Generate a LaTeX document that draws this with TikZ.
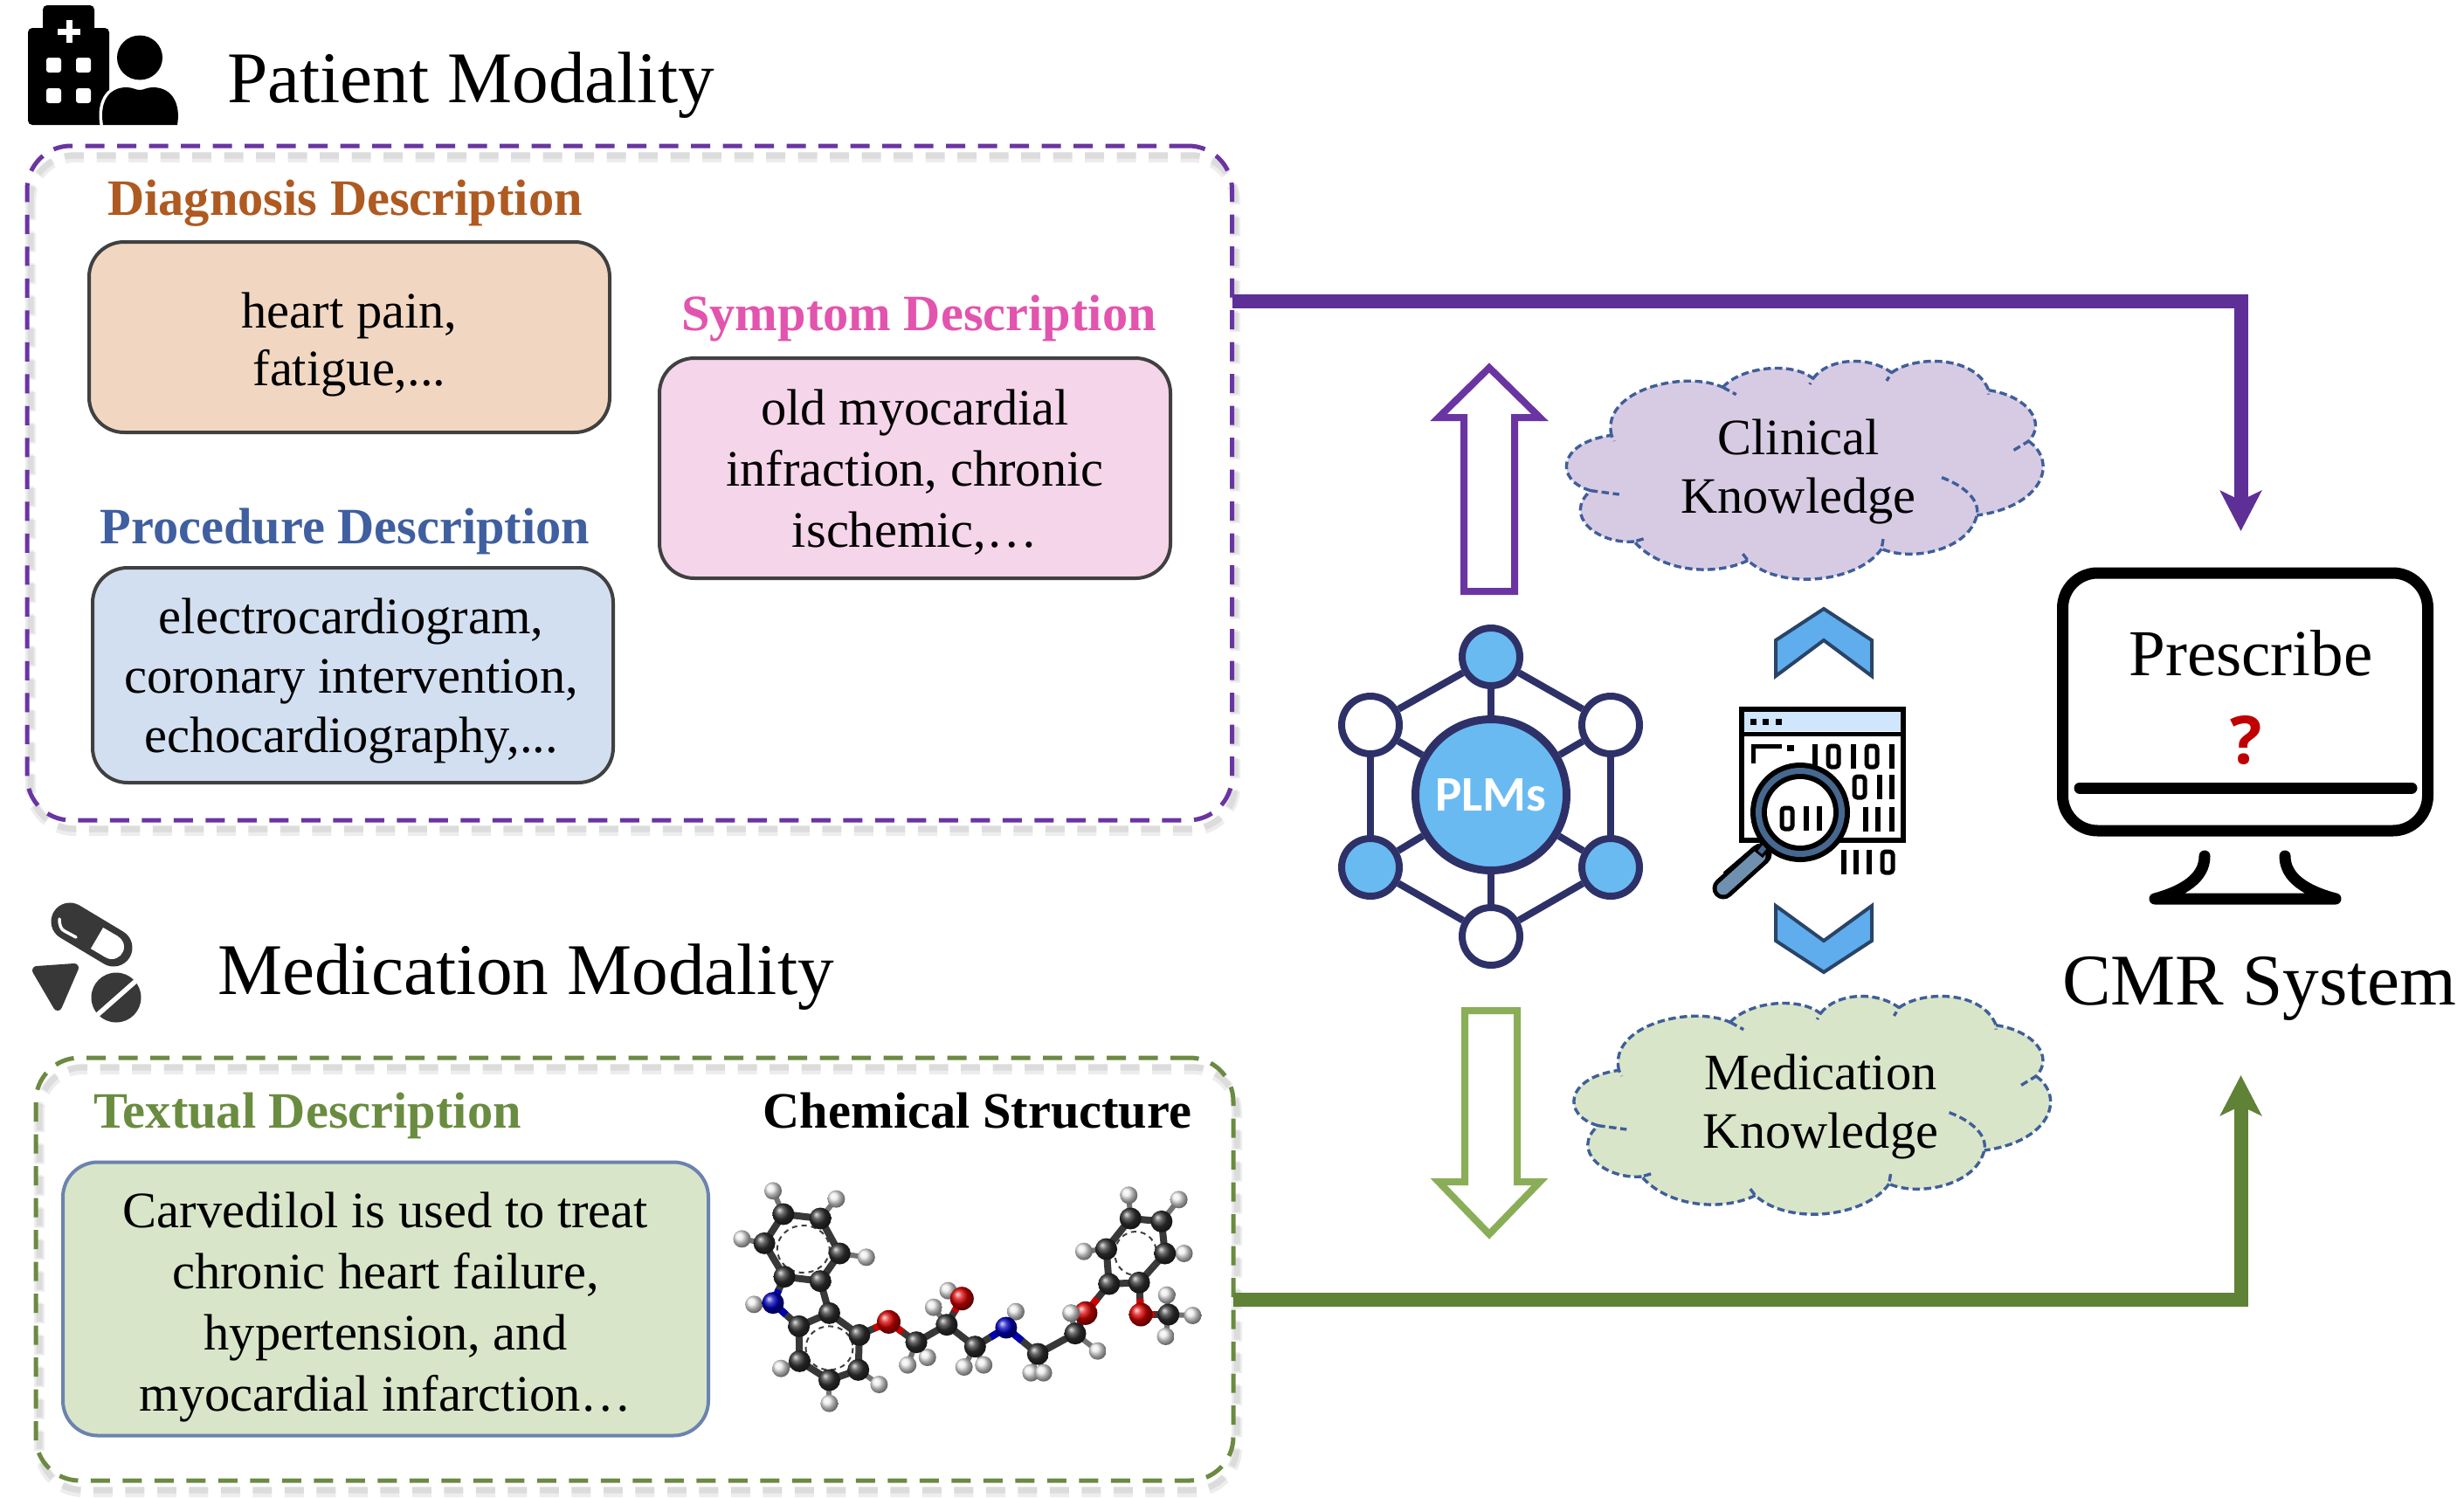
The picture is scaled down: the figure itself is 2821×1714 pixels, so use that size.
\documentclass[tikz,border=0pt]{standalone}
\usepackage{fontspec}
\setmainfont{Liberation Serif}
\newfontfamily\plmfont{Carlito}
\newfontfamily\qfont{Open Sans}
\usetikzlibrary{arrows.meta,calc}
\definecolor{cpurple}{HTML}{6A35A2}
\definecolor{cpurpleline}{HTML}{5E2F96}
\definecolor{cgreen}{HTML}{6B8A42}
\definecolor{cgreenline}{HTML}{5F8237}
\definecolor{cgreenarrow}{HTML}{8AAE58}
\definecolor{cnavy}{HTML}{2E3168}
\definecolor{cblue}{HTML}{6ABAF2}
\definecolor{cchev}{HTML}{5FADEC}
\definecolor{cchevline}{HTML}{2A4468}
\definecolor{cdash}{HTML}{3F5E9A}
\definecolor{cslate}{HTML}{46688E}
\definecolor{chandle}{HTML}{7090B0}
\definecolor{cicon}{HTML}{383838}
\definecolor{fdiag}{HTML}{F1D7C2}
\definecolor{fsym}{HTML}{F5D5EA}
\definecolor{fproc}{HTML}{D2DFF0}
\definecolor{ftext}{HTML}{D9E5C9}
\definecolor{fclin}{HTML}{D7CBE4}
\definecolor{fbar}{HTML}{CFE6FC}
\definecolor{tdiag}{HTML}{AE5A21}
\definecolor{tsym}{HTML}{E254AE}
\definecolor{tproc}{HTML}{3F5FA0}
\definecolor{ttext}{HTML}{6A8C40}
\definecolor{cardedge}{HTML}{404040}
\definecolor{textedge}{HTML}{6C83B0}
\definecolor{qred}{HTML}{C00000}
\tikzset{
  head/.style={font=\fontsize{83.3}{83.3}\selectfont,anchor=base west,inner sep=0pt},
  sub/.style={font=\bfseries\fontsize{58.4}{58.4}\selectfont,anchor=base,inner sep=0pt},
  body/.style={font=\fontsize{58.5}{#1}\selectfont,align=center,inner sep=0pt},
  card/.style={draw,line width=4pt,rounded corners=40pt,inner sep=0pt},
  frame/.style={line width=5pt,rounded corners=50pt,dash pattern=on 22pt off 14.5pt,inner sep=0pt,outer sep=0pt},
  fshadow/.style={line width=#1,rounded corners=50pt,dash pattern=on 22pt off 14.5pt,black,opacity=.07},
  hub/.style={circle,draw=cnavy,line width=8pt,minimum size=66pt,inner sep=0pt},
  spoke/.style={draw=cnavy,line width=8pt},
  hollow/.style={line width=8pt,fill=white,miter limit=10},
  chev/.style={fill=cchev,draw=cchevline,line width=4pt},
  cloudline/.style={draw=cdash,line width=3.4pt,dash pattern=on 8.5pt off 4.5pt},
  cloudtext/.style={font=\fontsize{58.4}{58.4}\selectfont,anchor=base,inner sep=0pt},
  flow/.style={line width=16pt,-{Stealth[length=46pt,width=47pt,inset=11pt]}},
  bitline/.style={line width=5.5pt},
  cbond/.style={line width=8pt,draw=black!78,line cap=round},
}
\newcommand\bitzero[2]{\draw[line width=5pt,rounded corners=3.5pt] ({#1-6},{#2-12}) rectangle ({#1+6},{#2+12});}
\newcommand\bitone[2]{\draw[bitline] (#1,{#2-14}) -- (#1,{#2+14});}
\newcommand\cloudshape[3]{%
 \begin{scope}[shift={(#1,#2)},xscale=0.38270,yscale=0.33333]
  \fill[#3] (222,325) .. controls (190,170) and (440,100) .. (555,160)
   .. controls (610,90) and (760,70) .. (825,130)
   .. controls (870,60) and (990,50) .. (1060,110)
   .. controls (1130,50) and (1310,50) .. (1350,170)
   .. controls (1465,190) and (1525,280) .. (1470,345)
   .. controls (1560,420) and (1510,570) .. (1315,600)
   .. controls (1290,720) and (1120,760) .. (1030,715)
   .. controls (960,830) and (730,860) .. (630,755)
   .. controls (530,810) and (370,795) .. (290,690)
   .. controls (180,700) and (75,600) .. (160,515)
   .. controls (50,480) and (60,350) .. (222,325) -- cycle;
  \draw[cloudline] (222,325) .. controls (190,170) and (440,100) .. (555,160)
   (555,160) -- (595,185)
   (555,160) .. controls (610,90) and (760,70) .. (825,130) -- (815,150)
   (825,130) .. controls (870,60) and (990,50) .. (1060,110) -- (1045,138)
   (1060,110) .. controls (1130,50) and (1310,50) .. (1350,170) -- (1350,185)
   (1350,170) .. controls (1465,190) and (1525,280) .. (1470,345) -- (1420,380)
   (1470,345) .. controls (1560,420) and (1510,570) .. (1315,600)
   (1210,470) .. controls (1280,500) and (1325,550) .. (1315,600)
   .. controls (1290,720) and (1120,760) .. (1030,715) -- (1035,680)
   (1030,715) .. controls (960,830) and (730,860) .. (630,755) -- (610,725)
   (630,755) .. controls (530,810) and (370,795) .. (290,690) -- (320,680)
   (290,690) .. controls (180,700) and (75,600) .. (160,515) -- (245,528)
   (160,515) .. controls (50,480) and (60,350) .. (222,325) -- (230,345);
 \end{scope}}
\begin{document}
\begin{tikzpicture}[x=1pt,y=-1pt]
\useasboundingbox (0,0) rectangle (2821,1714);
\fill[white] (0,0) rectangle (2821,1714);

% ---------- hospital + person icon
\fill[black,rounded corners=5pt] (49,6) rectangle (108,40);
\fill[black,rounded corners=5pt] (32,32) rectangle (125,143);
\fill[white] (75.5,23) rectangle (82.5,49);
\fill[white] (66,32.5) rectangle (92,39.5);
\foreach \wx in {53,87}\foreach \wy in {66,101}
  {\fill[white,rounded corners=3pt] (\wx,\wy) rectangle +(17,17);}
\fill[black] (160,66) ellipse [x radius=26,y radius=25.5];
\path[fill=black,draw=white,line width=7pt] (118,143) .. controls (114,120) and (122,100) .. (145,100)
  .. controls (152,100) and (155,103) .. (160,103) .. controls (165,103) and (168,100) .. (175,100)
  .. controls (198,100) and (207,120) .. (203,143) -- cycle;
\fill[black] (118,143) .. controls (114,120) and (122,100) .. (145,100)
  .. controls (152,100) and (155,103) .. (160,103) .. controls (165,103) and (168,100) .. (175,100)
  .. controls (198,100) and (207,120) .. (203,143) -- cycle;
\node[head] (ptitle) at (260,117) {Patient Modality};

% ---------- patient frame
\draw[fshadow=12pt] (35,180) rectangle (1414,951);
\draw[fshadow=7pt] (35,178) rectangle (1414,949);
\node[frame,draw=cpurple,minimum width=1379.5pt,minimum height=772pt] (pbox) at (720.75,553) {};

\node[sub,text=tdiag] (dtitle) at (395,246) {Diagnosis Description};
\node[card,draw=cardedge,fill=fdiag,minimum width=596pt,minimum height=218pt] (dcard) at (400,386) {};
\node[body=66] (dtext) at ($(dcard)+(0,9)$) {heart pain,\\fatigue,...};
\node[sub,text=tsym] (stitle) at (1052,378) {Symptom Description};
\node[card,draw=cardedge,fill=fsym,minimum width=585pt,minimum height=252pt] (scard) at (1047.5,536) {};
\node[body=70] (stext) at ($(scard)+(0,5)$) {old myocardial\\infraction, chronic\\ischemic,…};
\node[sub,text=tproc] (ptitle2) at (395,622) {Procedure Description};
\node[card,draw=cardedge,fill=fproc,minimum width=596pt,minimum height=246pt] (pcard) at (404,773) {};
\node[body=68] (ptext) at ($(pcard)+(-2,7)$) {electrocardiogram,\\coronary intervention,\\echocardiography,...};

% ---------- pills icon
\draw[cicon,line width=43pt,line cap=round] (80,1055) -- (130,1085);
\draw[white,line width=28pt] (111,1074) -- (128,1084);
\fill[white] (128,1084) circle (14);
\draw[white,line width=3.5pt,line cap=round,line join=round] (68,1052) .. controls (68,1060) and (70,1064) .. (74,1066) -- (87,1073);
\filldraw[cicon,line width=10pt,line join=round] (42,1111) -- (85,1108) -- (66,1152) -- cycle;
\fill[cicon] (133,1142) circle (28.5);
\draw[white,line width=5.5pt] (108,1165) -- (159,1120);
\node[head] (mtitle) at (249,1138) {Medication Modality};

% ---------- medication frame
\draw[fshadow=12pt] (45,1224) rectangle (1416,1708);
\draw[fshadow=7pt] (45,1222) rectangle (1416,1706);
\node[frame,draw=cgreen,minimum width=1371pt,minimum height=484pt] (mbox) at (726.5,1453) {};

\node[sub,text=ttext] (ttitle) at (352,1291) {Textual Description};
\node[sub] (ctitle) at (1119,1291) {Chemical Structure};
\node[card,draw=textedge,fill=ftext,minimum width=739pt,minimum height=313pt] (tcard) at (441.5,1487) {};
\node[body=70] (ttext2) at ($(tcard)+(0,9)$) {Carvedilol is used to treat\\chronic heart failure,\\hypertension, and\\myocardial infarction…};

% ---------- molecule
\foreach \n/\x/\y in {
 1/245/330,2/352/345,3/408/465,4/352/560,5/248/545,6/190/430,
 7/290/715,8/378/670,9/465/745,10/462/865,11/378/900,12/292/835,
 13/630/770,14/718/710,15/800/785,16/982/810,17/1090/740,
 18/1188/570,19/1275/565,20/1350/465,21/1340/355,22/1250/345,23/1180/450,24/1360/675,
 30/215/250,31/398/278,32/485/478,33/125/415,34/160/640,35/238/860,36/378/980,37/522/915,
 38/605/848,39/662/822,40/680/650,41/722/593,42/768/855,43/825/848,44/918/665,45/962/875,46/998/875,
 47/1078/670,48/1155/800,49/1245/265,50/1390/280,51/1405/465,52/1115/458,53/1355/608,54/1352/750,55/1430/678,
 60/550/700,61/762/620,62/1120/670,63/1280/675,
 70/215/635,71/890/720}
 {\coordinate (a\n) at ({800+\x/2.529},{1280+\y/3});}
\foreach \p/\q in {1/30,2/31,3/32,6/33,70/34,12/35,11/36,10/37,13/38,13/39,14/40,61/41,15/42,15/43,71/44,16/45,16/46,17/47,17/48,22/49,21/50,20/51,23/52,24/53,24/54,24/55}
 {\draw[line width=6pt,draw=black!55,line cap=round] (a\p) -- (a\q);}
\foreach \p/\q in {1/2,2/3,3/4,4/5,5/6,6/1,4/8,7/8,8/9,9/10,10/11,11/12,12/7,13/14,14/15,16/17,18/19,19/20,20/21,21/22,22/23,23/18}
 {\draw[cbond] (a\p) -- (a\q);}
\foreach \p/\q/\c in {9/60/red!80!black,13/60/red!80!black,14/61/red!80!black,17/62/red!80!black,18/62/red!80!black,19/63/red!80!black,24/63/red!80!black,
  5/70/blue!70!black,7/70/blue!70!black,15/71/blue!70!black,16/71/blue!70!black}{
 \draw[cbond] (a\p) -- (a\q);
 \draw[line width=8pt,draw=\c] (a\q) -- ($(a\q)!.5!(a\p)$);}
\foreach \cx/\cy/\rx/\ry in {303/450/30/27,378/790/27/25,1265/465/24/25}
 {\draw[black!75,line width=2pt,dash pattern=on 6pt off 5pt] ({800+\cx/2.529},{1280+\cy/3}) ellipse [x radius=\rx,y radius=\ry];}
\foreach \n in {30,...,55} {\shade[ball color=white!92!black] (a\n) circle (10);}
\foreach \n in {1,...,24} {\shade[ball color=black!80] (a\n) circle (12.5);}
\foreach \n in {60,...,63} {\shade[ball color=red!85!black] (a\n) circle (13.5);}
\foreach \n in {70,71} {\shade[ball color=blue!75!black] (a\n) circle (12.5);}
\shade[ball color=white!92!black] (a47) circle (10);

% ---------- hollow arrows
\draw[hollow,draw=cpurple] (1705,421) -- (1763,478) -- (1734,478) -- (1734,677) -- (1676,677) -- (1676,478) -- (1647,478) -- cycle;
\draw[hollow,draw=cgreenarrow] (1705,1413) -- (1763,1353) -- (1737,1353) -- (1737,1157) -- (1677,1157) -- (1677,1353) -- (1647,1353) -- cycle;

% ---------- PLMs hub
\node[circle,draw=cnavy,fill=cblue,line width=9pt,minimum size=173pt,inner sep=0pt,text=white,font=\plmfont\bfseries\fontsize{57}{57}\selectfont] (plm) at (1707,910) {PLMs};
\node[hub,fill=cblue] (nt) at (1707,752) {};
\node[hub,fill=white] (ntl) at (1569,830) {};
\node[hub,fill=white] (ntr) at (1844,830) {};
\node[hub,fill=cblue] (nbl) at (1569,993) {};
\node[hub,fill=cblue] (nbr) at (1844,993) {};
\node[hub,fill=white] (nb) at (1707,1072) {};
\foreach \p/\q in {nt/ntl,nt/ntr,ntl/nbl,ntr/nbr,nbl/nb,nbr/nb,nt/plm,ntl/plm,ntr/plm,nbl/plm,nbr/plm,nb/plm}
  {\draw[spoke] (\p) -- (\q);}

% ---------- clouds
\cloudshape{1760}{390}{fclin}
\node[cloudtext] (ck1) at (2059,520) {Clinical};
\node[cloudtext] (ck2) at (2059,587) {Knowledge};
\cloudshape{1768.5}{1117}{ftext}
\node[cloudtext] (mk1) at (2084.5,1247) {Medication};
\node[cloudtext] (mk2) at (2084.5,1314) {Knowledge};

% ---------- chevrons
\draw[chev] (2088,697) -- (2143,733) -- (2143,774) -- (2088,733) -- (2033,774) -- (2033,733) -- cycle;
\draw[chev] (2033,1037) -- (2088,1077) -- (2143,1037) -- (2143,1077) -- (2088,1113) -- (2033,1077) -- cycle;

% ---------- code window + magnifier
\draw[line width=6pt,fill=white] (1994,812) rectangle (2179,962);
\fill[fbar] (1997,815) rectangle (2176,837);
\draw[line width=5pt] (1994,840) -- (2179,840);
\foreach \sx in {2007,2021,2036} {\fill (\sx,826) +(-3.5,-3.5) rectangle +(3.5,3.5);}
\draw[line width=5pt] (2007,874) -- (2007,854) -- (2040,854);
\fill (2046,853) rectangle (2054,860);
\foreach \bx in {2078,2122,2166} {\bitone{\bx}{866}}
\foreach \bx in {2099,2143} {\bitzero{\bx}{866}}
\bitzero{2129}{901}
\foreach \bx in {2152,2166} {\bitone{\bx}{901}}
\foreach \bx in {2136,2150,2166} {\bitone{\bx}{938}}
\foreach \bx in {2111,2125,2140} {\bitone{\bx}{987}}
\bitzero{2161}{987}
\draw[line width=25pt] (2016,978) -- (1981,1008);
\draw[line width=25pt,line cap=round] (2016,978) -- (1973,1017);
\draw[line width=15pt,draw=chandle,line cap=round] (2014,980) -- (1973,1017);
\draw[line width=13pt] (2026,962) -- (2013,978);
\draw[line width=6pt,draw=cslate] (2026,962) -- (2015,976);
\fill (2061,930) circle (57);
\fill[cslate] (2061,930) circle (51);
\fill (2061,930) circle (44);
\fill[white] (2061,930) circle (38);
\bitzero{2046}{937}
\foreach \bx in {2068,2083} {\bitone{\bx}{937}}

% ---------- monitor
\node[draw,line width=13pt,rounded corners=40pt,minimum width=418pt,minimum height=295pt,inner sep=0pt,fill=white] (screen) at (2570.5,803.5) {};
\draw[line width=13pt,line cap=round] (2381,902) -- (2761,902);
\draw[line width=13pt,line cap=round,line join=round] (2524,980) .. controls (2524,1005) and (2500,1020) .. (2467,1029) -- (2674,1029) .. controls (2640,1020) and (2616,1005) .. (2616,980);
\node[font=\fontsize{75}{75}\selectfont,anchor=base,inner sep=0pt] (rx) at (2577,773) {Prescribe};
\node[font=\qfont\bfseries\fontsize{76}{76}\selectfont,text=qred,anchor=base,inner sep=0pt] (rq) at (2572,874) {?};
\node[head,anchor=base] (sys) at (2587,1150) {CMR System};

% ---------- flows
\coordinate (pturn) at (2565.5,344.5);
\coordinate (pend) at (2565.5,608);
\coordinate (mturn) at (2565.5,1488);
\coordinate (mend) at (2565.5,1231);
\draw[flow,draw=cpurpleline] (pbox.east |- pturn) -- (pturn) -- (pend);
\draw[flow,draw=cgreenline] (mbox.east |- mturn) -- (mturn) -- (mend);
\end{tikzpicture}
\end{document}
